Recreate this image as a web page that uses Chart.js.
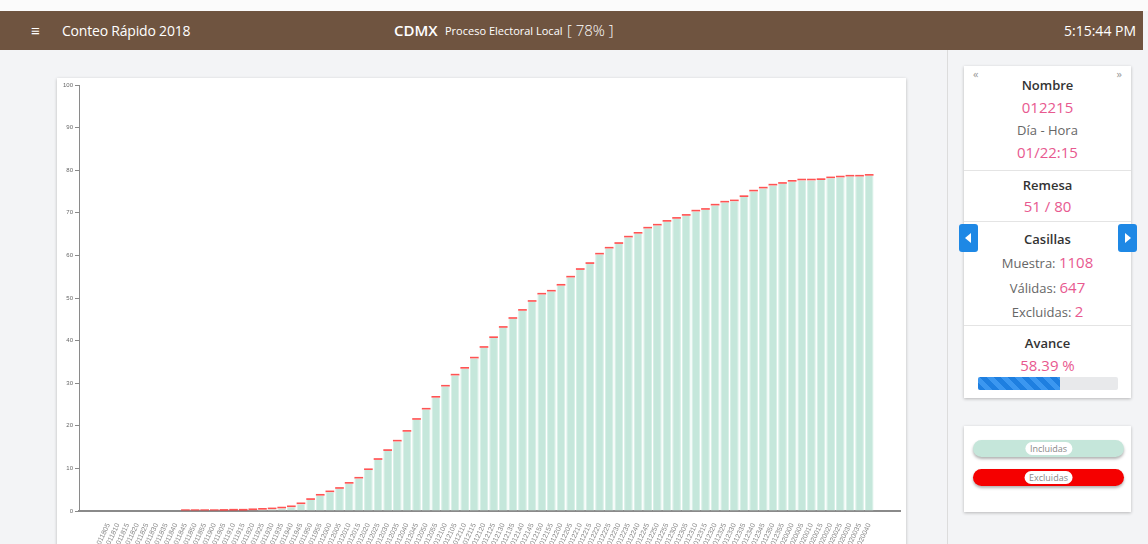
<!DOCTYPE html>
<html>
<head>
<meta charset="utf-8">
<script src="https://cdn.jsdelivr.net/npm/chart.js@4.4.0/dist/chart.umd.min.js"></script>
<style>
  body { margin: 0; width: 1148px; height: 544px; overflow: hidden; background: #f3f4f6; font-family: "Open Sans", sans-serif; position: relative; }
  .topgap { position: absolute; left: 0; top: 0; width: 1148px; height: 11px; background: #fbfbfb; }
  .header { position: absolute; left: 0; top: 11px; width: 1143px; height: 39px; background: #6f5440; color: #fff; }
  .header span { position: absolute; top: 0; line-height: 39px; white-space: nowrap; }
  .divider { position: absolute; left: 947px; top: 50px; width: 1px; height: 494px; background: #dcdcdc; }
  .card { position: absolute; background: #fff; box-shadow: 0 1px 3px rgba(0,0,0,0.25); }
  .row { position: absolute; left: 964px; width: 167px; text-align: center; line-height: 20px; font-size: 13px; color: #666; white-space: nowrap; }
  .row b { color: #333; font-weight: 600; }
  .pink { color: #e8598f; font-size: 15px; }
  .sep { position: absolute; left: 964px; width: 167px; height: 1px; background: #e4e4e4; }
  .navbtn { position: absolute; top: 224px; width: 19px; height: 28px; background: #1e88e5; border-radius: 3px; }
  .pill { position: absolute; left: 973px; width: 151px; height: 17px; border-radius: 9px; box-shadow: 0 2px 3px rgba(0,0,0,0.3); }
  .pill span { position: absolute; left: 50%; top: 2px; transform: translateX(-50%); background: #fff; border-radius: 7px; padding: 0 5px; font-size: 9px; line-height: 13px; color: #888; }
</style>
</head>
<body>
<div class="topgap"></div>
<div class="header">
  <span style="left:31px;font-size:15px;">&#8801;</span>
  <span style="left:62px;font-size:14px;letter-spacing:-0.2px;">Conteo Rápido 2018</span>
  <span style="left:394px;font-size:15px;font-weight:600;">CDMX</span>
  <span style="left:445px;font-size:11px;">Proceso Electoral Local</span>
  <span style="left:567px;font-size:15px;font-weight:300;">[ 78% ]</span>
  <span style="left:1064px;font-size:14px;">5:15:44 PM</span>
</div>
<div class="divider"></div>

<div class="card" style="left:57px;top:78px;width:849px;height:480px;">
  <canvas id="avanceChart" width="849" height="466"></canvas>
</div>

<div class="card" style="left:964px;top:66px;width:167px;height:332px;"></div>
<div class="row" style="top:64px;text-align:left;padding-left:9px;width:158px;color:#999;font-size:11px;">&laquo;</div>
<div class="row" style="top:64px;text-align:right;padding-right:9px;width:158px;color:#999;font-size:11px;">&raquo;</div>
<div class="row" style="top:75px;"><b>Nombre</b></div>
<div class="row pink" style="top:97px;">012215</div>
<div class="row" style="top:120px;">Día - Hora</div>
<div class="row pink" style="top:142px;">01/22:15</div>
<div class="sep" style="top:170px;"></div>
<div class="row" style="top:175px;"><b>Remesa</b></div>
<div class="row pink" style="top:196px;">51 / 80</div>
<div class="sep" style="top:221px;"></div>
<div class="navbtn" style="left:959px;"><svg width="19" height="28"><polygon points="12,9 12,19 6,14" fill="#fff"/></svg></div>
<div class="navbtn" style="left:1118px;"><svg width="19" height="28"><polygon points="7,9 7,19 13,14" fill="#fff"/></svg></div>
<div class="row" style="top:229px;"><b>Casillas</b></div>
<div class="row" style="top:252px;">Muestra: <span class="pink">1108</span></div>
<div class="row" style="top:277px;">Válidas: <span class="pink">647</span></div>
<div class="row" style="top:301px;">Excluidas: <span class="pink">2</span></div>
<div class="sep" style="top:325px;"></div>
<div class="row" style="top:333px;"><b>Avance</b></div>
<div class="row pink" style="top:355px;">58.39 %</div>
<div style="position:absolute;left:978px;top:377px;width:140px;height:13px;background:#e8e9eb;border-radius:2px;overflow:hidden;">
  <div style="width:58.39%;height:100%;background:repeating-linear-gradient(45deg,#1e7fe0 0 5px,#3b97f0 5px 10px);"></div>
</div>

<div class="card" style="left:964px;top:426px;width:167px;height:86px;"></div>
<div class="pill" style="top:440px;background:#c5e6da;"><span>Incluidas</span></div>
<div class="pill" style="top:469px;background:#f50000;"><span>Excluidas</span></div>

<script>
// remesas (dia + hora) shown on the x axis
const remesas = [
  '011805', '011810', '011815', '011820', '011825', '011830', '011835', '011840', '011845', '011850', '011855',
  '011900', '011905', '011910', '011915', '011920', '011925', '011930', '011935', '011940', '011945', '011950', '011955',
  '012000', '012005', '012010', '012015', '012020', '012025', '012030', '012035', '012040', '012045', '012050', '012055',
  '012100', '012105', '012110', '012115', '012120', '012125', '012130', '012135', '012140', '012145', '012150', '012155',
  '012200', '012205', '012210', '012215', '012220', '012225', '012230', '012235', '012240', '012245', '012250', '012255',
  '012300', '012305', '012310', '012315', '012320', '012325', '012330', '012335', '012340', '012345', '012350', '012355',
  '020000', '020005', '020010', '020015', '020020', '020025', '020030', '020035', '020040'
];

// avance (%) de casillas incluidas por remesa
const incluidas = [
  0, 0, 0, 0, 0, 0, 0, 0, 0, 0,
  0, 0, 0.05, 0.1, 0.1, 0.2, 0.3, 0.4, 0.6, 0.9,
  1.6, 2.6, 3.6, 4.4, 5.2, 6.4, 7.6, 9.6, 12.0, 14.1,
  16.3, 18.6, 21.4, 23.8, 26.6, 29.2, 31.8, 33.4, 35.8, 38.3,
  40.6, 43.0, 45.1, 47.0, 49.1, 50.8, 51.5, 52.9, 54.8, 56.6,
  58.0, 60.2, 61.6, 62.7, 64.2, 65.1, 66.3, 67.0, 67.9, 68.6,
  69.3, 70.3, 70.7, 71.7, 72.4, 72.7, 73.7, 75.0, 75.7, 76.4,
  76.8, 77.3, 77.6, 77.6, 77.7, 78.1, 78.3, 78.5, 78.5, 78.7
];

// excluidas (%) stacked on top
const excluidas = [
  0, 0, 0, 0, 0, 0, 0, 0, 0.4, 0.4,
  0.4, 0.4, 0.4, 0.4, 0.4, 0.4, 0.4, 0.4, 0.4, 0.4,
  0.4, 0.4, 0.4, 0.4, 0.4, 0.4, 0.4, 0.4, 0.4, 0.4,
  0.4, 0.4, 0.4, 0.4, 0.4, 0.4, 0.4, 0.4, 0.4, 0.4,
  0.4, 0.4, 0.4, 0.4, 0.4, 0.4, 0.4, 0.4, 0.4, 0.4,
  0.4, 0.4, 0.4, 0.4, 0.4, 0.4, 0.4, 0.4, 0.4, 0.4,
  0.4, 0.4, 0.4, 0.4, 0.4, 0.4, 0.4, 0.4, 0.4, 0.4,
  0.4, 0.4, 0.4, 0.4, 0.4, 0.4, 0.4, 0.4, 0.4, 0.4
];

const yTicks = [0, 10, 20, 30, 40, 50, 60, 70, 80, 90, 100];

const toPoints = (arr) => arr.map((v, i) => ({ x: i, y: v }));

const ctx = document.getElementById('avanceChart').getContext('2d');
new Chart(ctx, {
  type: 'bar',
  data: {
    datasets: [
      {
        label: 'Incluidas',
        data: toPoints(incluidas),
        backgroundColor: '#c5e7db',
        borderColor: '#d6efe6',
        borderWidth: { left: 1, right: 1 },
        categoryPercentage: 1,
        barPercentage: 0.9
      },
      {
        label: 'Excluidas',
        data: toPoints(excluidas),
        backgroundColor: 'rgba(255, 40, 40, 0.8)',
        borderWidth: 0,
        categoryPercentage: 1,
        barPercentage: 0.9
      }
    ]
  },
  options: {
    responsive: false,
    animation: false,
    layout: { padding: { top: 7, right: 6, left: 0, bottom: 0 } },
    plugins: {
      legend: { display: false }
    },
    scales: {
      x: {
        type: 'linear',
        stacked: true,
        offset: false,
        min: -3.05,
        max: 82.2,
        grid: { display: false, offset: false },
        border: { color: '#8a8a8a', width: 2 },
        ticks: {
          stepSize: 1,
          autoSkip: false,
          minRotation: 65,
          maxRotation: 65,
          padding: 3,
          color: '#888',
          font: { size: 7 },
          callback: (v) => (Number.isInteger(v) && remesas[v]) ? remesas[v] : ''
        },
        afterFit: (scale) => {
          scale.height = 33;
          scale.paddingLeft = 0;
          scale.paddingRight = 0;
        }
      },
      y: {
        stacked: true,
        min: 0,
        max: 100,
        afterBuildTicks: (scale) => { scale.ticks = yTicks.map(v => ({ value: v })); },
        grid: { drawOnChartArea: false, tickLength: 4, color: '#8a8a8a' },
        border: { color: '#8a8a8a' },
        ticks: { color: '#666', font: { size: 6 }, padding: 2 },
        afterFit: (scale) => { scale.width = 22; }
      }
    }
  }
});
</script>
</body>
</html>
